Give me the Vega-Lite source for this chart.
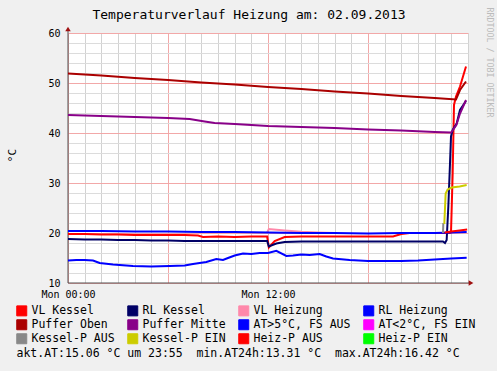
{
  "$schema": "https://vega.github.io/schema/vega-lite/v6.json",
  "width": 400,
  "height": 250,
  "autosize": {"type": "none"},
  "padding": {"left": 68, "top": 33, "right": 29, "bottom": 88},
  "background": "#F0F0F0",
  "title": {"text": "Temperaturverlauf Heizung am: 02.09.2013", "font": "DejaVu Sans Mono", "fontSize": 13, "fontWeight": "normal", "color": "#000000", "anchor": "middle", "dx": -19, "offset": -15},
  "config": {"view": {"fill": "white", "stroke": null}, "font": "DejaVu Sans Mono"},
  "datasets": {
    "series": [
      {"s":"VL Kessel","t":0,"v":19.8},{"s":"VL Kessel","t":1,"v":19.8},{"s":"VL Kessel","t":2,"v":19.7},{"s":"VL Kessel","t":3,"v":19.7},{"s":"VL Kessel","t":4,"v":19.6},{"s":"VL Kessel","t":5,"v":19.6},{"s":"VL Kessel","t":6,"v":19.6},{"s":"VL Kessel","t":7,"v":19.6},{"s":"VL Kessel","t":7.8,"v":19.5},{"s":"VL Kessel","t":8.1,"v":19.2},{"s":"VL Kessel","t":9,"v":19.3},{"s":"VL Kessel","t":10,"v":19.2},{"s":"VL Kessel","t":11,"v":19.3},{"s":"VL Kessel","t":11.95,"v":19.3},{"s":"VL Kessel","t":12.05,"v":17.1},{"s":"VL Kessel","t":12.4,"v":18.4},{"s":"VL Kessel","t":13,"v":19.2},{"s":"VL Kessel","t":14,"v":19.3},{"s":"VL Kessel","t":15,"v":19.3},{"s":"VL Kessel","t":16,"v":19.3},{"s":"VL Kessel","t":17,"v":19.3},{"s":"VL Kessel","t":18,"v":19.3},{"s":"VL Kessel","t":19,"v":19.3},{"s":"VL Kessel","t":19.5,"v":19.3},{"s":"VL Kessel","t":20,"v":19.8},{"s":"VL Kessel","t":20.5,"v":20.0},{"s":"VL Kessel","t":21,"v":20.0},{"s":"VL Kessel","t":22,"v":20.0},{"s":"VL Kessel","t":22.9,"v":20.0},{"s":"VL Kessel","t":22.98,"v":20.1},{"s":"VL Kessel","t":23.08,"v":31.9},{"s":"VL Kessel","t":23.16,"v":45.6},{"s":"VL Kessel","t":23.28,"v":47.3},{"s":"VL Kessel","t":23.52,"v":49.3},{"s":"VL Kessel","t":23.88,"v":53.3},
      {"s":"RL Kessel","t":0,"v":18.8},{"s":"RL Kessel","t":1,"v":18.7},{"s":"RL Kessel","t":2,"v":18.7},{"s":"RL Kessel","t":3,"v":18.6},{"s":"RL Kessel","t":4,"v":18.6},{"s":"RL Kessel","t":5,"v":18.5},{"s":"RL Kessel","t":6,"v":18.5},{"s":"RL Kessel","t":7,"v":18.4},{"s":"RL Kessel","t":8,"v":18.4},{"s":"RL Kessel","t":10,"v":18.4},{"s":"RL Kessel","t":11.95,"v":18.4},{"s":"RL Kessel","t":12.05,"v":17.3},{"s":"RL Kessel","t":12.5,"v":17.9},{"s":"RL Kessel","t":13,"v":18.2},{"s":"RL Kessel","t":14,"v":18.3},{"s":"RL Kessel","t":16,"v":18.3},{"s":"RL Kessel","t":18,"v":18.3},{"s":"RL Kessel","t":20,"v":18.3},{"s":"RL Kessel","t":22,"v":18.3},{"s":"RL Kessel","t":22.5,"v":18.3},{"s":"RL Kessel","t":22.62,"v":18.0},{"s":"RL Kessel","t":22.72,"v":18.6},{"s":"RL Kessel","t":22.82,"v":25.3},{"s":"RL Kessel","t":22.92,"v":33.9},{"s":"RL Kessel","t":22.98,"v":39.3},{"s":"RL Kessel","t":23.08,"v":40.6},{"s":"RL Kessel","t":23.32,"v":41.9},{"s":"RL Kessel","t":23.52,"v":44.6},{"s":"RL Kessel","t":23.88,"v":46.4},
      {"s":"VL Heizung","t":11.95,"v":20.1},{"s":"VL Heizung","t":12.05,"v":20.8},{"s":"VL Heizung","t":13,"v":20.5},{"s":"VL Heizung","t":14,"v":20.25},{"s":"VL Heizung","t":15,"v":20.1},{"s":"VL Heizung","t":16,"v":20.0},
      {"s":"RL Heizung","t":0,"v":20.4},{"s":"RL Heizung","t":2,"v":20.4},{"s":"RL Heizung","t":4,"v":20.3},{"s":"RL Heizung","t":6,"v":20.3},{"s":"RL Heizung","t":8,"v":20.2},{"s":"RL Heizung","t":10,"v":20.2},{"s":"RL Heizung","t":12,"v":20.1},{"s":"RL Heizung","t":14,"v":20.0},{"s":"RL Heizung","t":16,"v":20.0},{"s":"RL Heizung","t":18,"v":19.9},{"s":"RL Heizung","t":20,"v":20.0},{"s":"RL Heizung","t":22,"v":20.0},{"s":"RL Heizung","t":23,"v":20.1},{"s":"RL Heizung","t":23.92,"v":20.2},
      {"s":"Puffer Oben","t":0,"v":51.9},{"s":"Puffer Oben","t":2,"v":51.5},{"s":"Puffer Oben","t":4,"v":51.0},{"s":"Puffer Oben","t":6,"v":50.6},{"s":"Puffer Oben","t":8,"v":50.1},{"s":"Puffer Oben","t":10,"v":49.7},{"s":"Puffer Oben","t":12,"v":49.2},{"s":"Puffer Oben","t":14,"v":48.8},{"s":"Puffer Oben","t":16,"v":48.3},{"s":"Puffer Oben","t":18,"v":47.9},{"s":"Puffer Oben","t":20,"v":47.4},{"s":"Puffer Oben","t":22,"v":47.0},{"s":"Puffer Oben","t":23.28,"v":46.7},{"s":"Puffer Oben","t":23.52,"v":48.6},{"s":"Puffer Oben","t":23.88,"v":50.3},
      {"s":"Puffer Mitte","t":0,"v":43.6},{"s":"Puffer Mitte","t":2,"v":43.4},{"s":"Puffer Mitte","t":4,"v":43.2},{"s":"Puffer Mitte","t":6,"v":43.0},{"s":"Puffer Mitte","t":7.3,"v":42.8},{"s":"Puffer Mitte","t":8.2,"v":42.3},{"s":"Puffer Mitte","t":8.8,"v":42.0},{"s":"Puffer Mitte","t":10,"v":41.8},{"s":"Puffer Mitte","t":12,"v":41.4},{"s":"Puffer Mitte","t":14,"v":41.2},{"s":"Puffer Mitte","t":16,"v":41.0},{"s":"Puffer Mitte","t":18,"v":40.7},{"s":"Puffer Mitte","t":20,"v":40.5},{"s":"Puffer Mitte","t":22,"v":40.2},{"s":"Puffer Mitte","t":22.98,"v":40.1},{"s":"Puffer Mitte","t":23.1,"v":40.6},{"s":"Puffer Mitte","t":23.3,"v":41.6},{"s":"Puffer Mitte","t":23.52,"v":43.9},{"s":"Puffer Mitte","t":23.88,"v":46.6},
      {"s":"AT>5°C, FS AUS","t":0,"v":14.5},{"s":"AT>5°C, FS AUS","t":0.5,"v":14.6},{"s":"AT>5°C, FS AUS","t":1,"v":14.6},{"s":"AT>5°C, FS AUS","t":1.5,"v":14.5},{"s":"AT>5°C, FS AUS","t":1.9,"v":14.0},{"s":"AT>5°C, FS AUS","t":2.7,"v":13.7},{"s":"AT>5°C, FS AUS","t":3.9,"v":13.4},{"s":"AT>5°C, FS AUS","t":5,"v":13.31},{"s":"AT>5°C, FS AUS","t":6.1,"v":13.4},{"s":"AT>5°C, FS AUS","t":7,"v":13.5},{"s":"AT>5°C, FS AUS","t":7.5,"v":13.8},{"s":"AT>5°C, FS AUS","t":8.3,"v":14.2},{"s":"AT>5°C, FS AUS","t":8.9,"v":14.8},{"s":"AT>5°C, FS AUS","t":9.3,"v":14.6},{"s":"AT>5°C, FS AUS","t":9.6,"v":15.0},{"s":"AT>5°C, FS AUS","t":10,"v":15.5},{"s":"AT>5°C, FS AUS","t":10.5,"v":15.9},{"s":"AT>5°C, FS AUS","t":11,"v":15.8},{"s":"AT>5°C, FS AUS","t":11.5,"v":16.0},{"s":"AT>5°C, FS AUS","t":12,"v":16.0},{"s":"AT>5°C, FS AUS","t":12.5,"v":16.42},{"s":"AT>5°C, FS AUS","t":13.1,"v":15.4},{"s":"AT>5°C, FS AUS","t":13.5,"v":15.5},{"s":"AT>5°C, FS AUS","t":14,"v":15.7},{"s":"AT>5°C, FS AUS","t":14.5,"v":15.6},{"s":"AT>5°C, FS AUS","t":15.1,"v":15.8},{"s":"AT>5°C, FS AUS","t":15.5,"v":15.3},{"s":"AT>5°C, FS AUS","t":15.9,"v":14.9},{"s":"AT>5°C, FS AUS","t":16.9,"v":14.6},{"s":"AT>5°C, FS AUS","t":18,"v":14.4},{"s":"AT>5°C, FS AUS","t":19,"v":14.4},{"s":"AT>5°C, FS AUS","t":20,"v":14.4},{"s":"AT>5°C, FS AUS","t":21,"v":14.5},{"s":"AT>5°C, FS AUS","t":22,"v":14.7},{"s":"AT>5°C, FS AUS","t":23,"v":14.9},{"s":"AT>5°C, FS AUS","t":23.92,"v":15.06},
      {"s":"Kessel-P AUS","t":22.5,"v":20.0},{"s":"Kessel-P AUS","t":22.52,"v":22.0},
      {"s":"Kessel-P EIN","t":22.53,"v":22.0},{"s":"Kessel-P EIN","t":22.58,"v":22.0},{"s":"Kessel-P EIN","t":22.66,"v":27.9},{"s":"Kessel-P EIN","t":22.78,"v":28.7},{"s":"Kessel-P EIN","t":23.02,"v":29.1},{"s":"Kessel-P EIN","t":23.5,"v":29.3},{"s":"Kessel-P EIN","t":23.92,"v":29.6},
      {"s":"Heiz-P AUS","t":22.6,"v":20.1},{"s":"Heiz-P AUS","t":23.0,"v":20.3},{"s":"Heiz-P AUS","t":23.5,"v":20.5},{"s":"Heiz-P AUS","t":23.95,"v":20.7}
    ]
  },
  "layer": [
    {
      "data": {"values": [{}]},
      "mark": {"type": "rule", "color": "#505050", "strokeWidth": 1, "clip": false},
      "encoding": {
        "x": {"datum": 0, "scale": {"domain": [0, 24], "nice": false, "zero": false},
          "axis": {"orient": "top", "values": [1,2,3,4,5,7,8,9,10,11,13,14,15,16,17,19,20,21,22,23,24],
            "grid": true, "gridColor": "#D2D2D2", "gridWidth": 1, "domain": false, "ticks": false, "labels": false, "title": null}},
        "y": {"datum": 10, "scale": {"domain": [10, 60], "nice": false, "zero": false},
          "axis": {"orient": "right", "values": [12,14,16,18,22,24,26,28,32,34,36,38,42,44,46,48,52,54,56,58],
            "grid": true, "gridColor": "#DCDCDC", "gridWidth": 1, "domain": false, "ticks": false, "labels": false,
            "title": "RRDTOOL / TOBI OETIKER", "titleAngle": 90, "titleX": 20, "titleY": 29, "titleAlign": "center", "titleBaseline": "middle",
            "titleFontSize": 8.3, "titleFontWeight": "normal", "titleFont": "DejaVu Sans Mono", "titleColor": "#BBBBBB"}},
        "y2": {"datum": 60.8}
      }
    },
    {
      "data": {"name": "series"},
      "mark": {"type": "line", "strokeWidth": 2, "clip": false},
      "encoding": {
        "x": {"field": "t", "type": "quantitative",
          "axis": {"values": [0, 6, 12, 18],
            "labelExpr": "datum.value == 0 ? 'Mon 00:00' : (datum.value == 12 ? 'Mon 12:00' : '')",
            "grid": true, "gridColor": "#F2A8A8", "gridWidth": 1, "domain": false, "ticks": false, "tickSize": 0,
            "labelPadding": 6, "labelFontSize": 10, "labelFont": "DejaVu Sans Mono", "labelColor": "#000000",
            "labelOverlap": false, "labelFlush": false,
            "title": "akt.AT:15.06 °C um 23:55\u00a0\u00a0min.AT24h:13.31 °C\u00a0\u00a0max.AT24h:16.42 °C",
            "titleX": -52, "titleY": 70, "titleAlign": "left", "titleBaseline": "middle", "titleAngle": 0,
            "titleFontSize": 11.5, "titleFontWeight": "normal", "titleFont": "DejaVu Sans Mono", "titleColor": "#000000"}},
        "y": {"field": "v", "type": "quantitative",
          "axis": {"values": [10, 20, 30, 40, 50, 60],
            "grid": true, "gridColor": "#F2A8A8", "gridWidth": 1, "domain": false, "ticks": false, "tickSize": 0,
            "labelPadding": 8, "labelFontSize": 10, "labelFont": "DejaVu Sans Mono", "labelColor": "#000000", "labelOverlap": false, "labelFlush": false,
            "title": "°C", "titleAngle": 270, "titleX": -56, "titleY": 122, "titleAlign": "center", "titleBaseline": "middle",
            "titleFontSize": 11, "titleFontWeight": "normal", "titleFont": "DejaVu Sans Mono", "titleColor": "#000000"}},
        "color": {"field": "s", "type": "nominal",
          "scale": {"domain": ["VL Kessel","RL Kessel","VL Heizung","RL Heizung","Puffer Oben","Puffer Mitte","AT>5°C, FS AUS","AT<2°C, FS EIN","Kessel-P AUS","Kessel-P EIN","Heiz-P AUS","Heiz-P EIN"],
                    "range": ["#FF0000","#000066","#FF88AA","#0000FF","#AA0000","#880088","#0000FF","#FF00FF","#888888","#CCCC00","#FF0000","#00FF00"]},
          "legend": {"orient": "none", "legendX": -52, "legendY": 272, "direction": "horizontal", "columns": 4,
            "columnPadding": 10, "rowPadding": -1, "symbolType": "square", "symbolSize": 100, "symbolStrokeWidth": 1,
            "labelFont": "DejaVu Sans Mono", "labelFontSize": 11.5, "labelColor": "#000000", "labelOffset": 4, "labelLimit": 0, "title": null,
            "encode": {"symbols": {"update": {"fill": {"scale": "color", "field": "value"}, "stroke": {"value": "#000000"}, "fillOpacity": {"value": 1}, "opacity": {"value": 1}, "strokeWidth": {"value": 1}}}}}}
      }
    },
    {
      "data": {"values": [{}]},
      "mark": {"type": "rule", "color": "#505050", "strokeWidth": 1, "clip": false},
      "encoding": {
        "x": {"datum": 0, "axis": null},
        "x2": {"datum": 24.2},
        "y": {"datum": 10, "axis": null}
      }
    },
    {
      "data": {"values": [{}]},
      "mark": {"type": "point", "shape": "triangle-up", "filled": true, "size": 30, "color": "#A01010", "opacity": 1, "clip": false},
      "encoding": {"x": {"datum": 0, "axis": null}, "y": {"datum": 60.8, "axis": null}}
    },
    {
      "data": {"values": [{}]},
      "mark": {"type": "point", "shape": "triangle-right", "filled": true, "size": 30, "color": "#A01010", "opacity": 1, "clip": false},
      "encoding": {"x": {"datum": 24.18, "axis": null}, "y": {"datum": 10, "axis": null}}
    }
  ],
  "resolve": {"axis": {"x": "independent", "y": "independent"}}
}
